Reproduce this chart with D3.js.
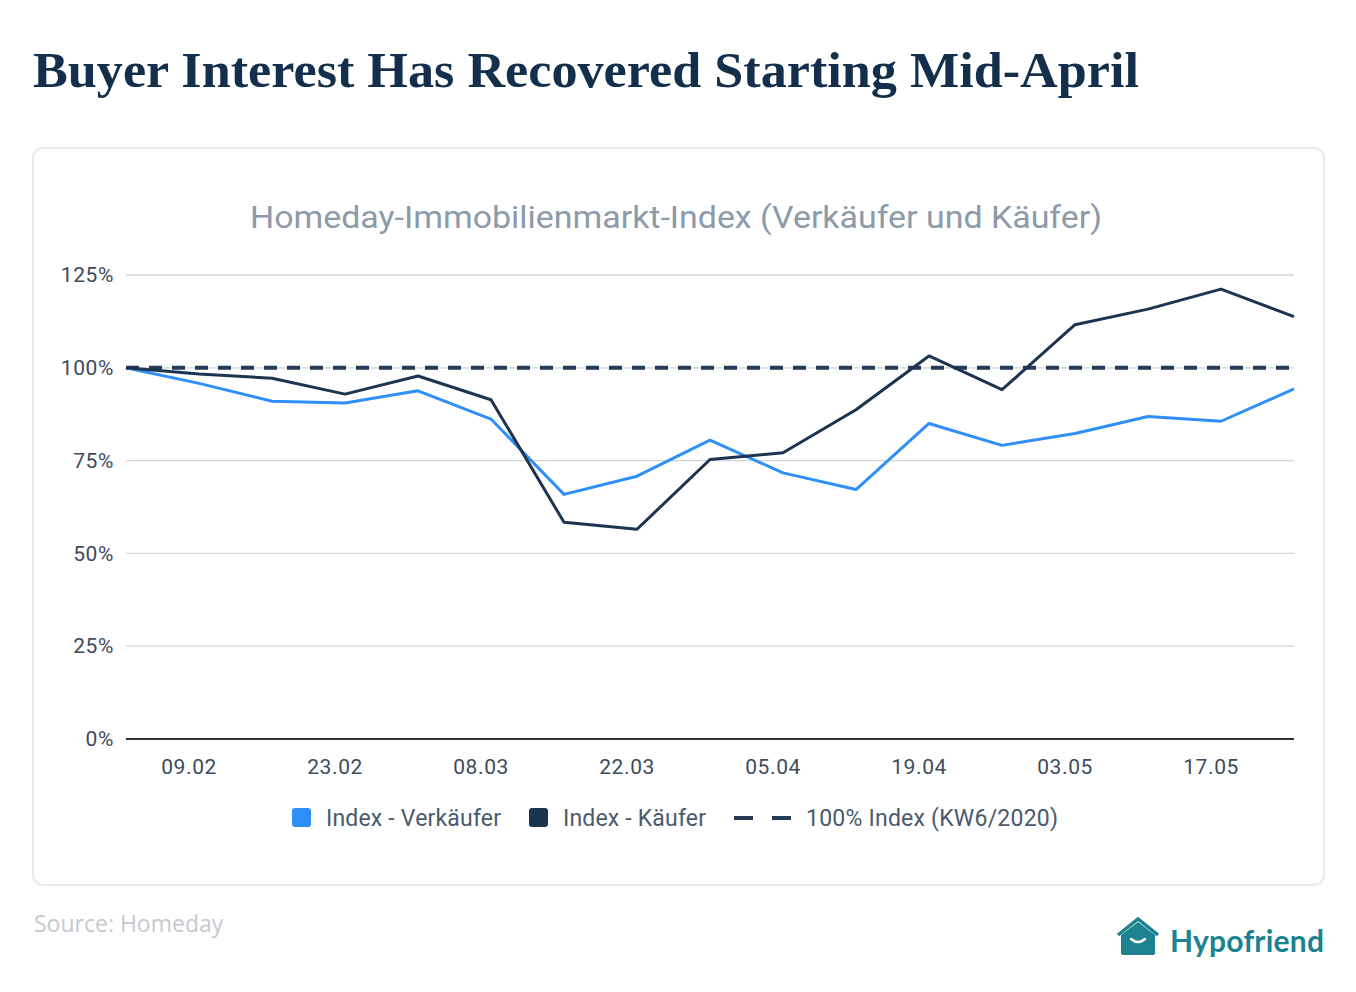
<!DOCTYPE html>
<html>
<head>
<meta charset="utf-8">
<script src="https://cdn.jsdelivr.net/npm/d3@7"></script>
<style>
  body { margin: 0; background: #fff; }
  svg { display: block; }
</style>
</head>
<body>
<svg id="chart" width="1356" height="992"></svg>
<script>
// weekly data points, KW6 2020 onwards (Mondays)
const weeks = ['2020-02-03','2020-02-10','2020-02-17','2020-02-24','2020-03-02','2020-03-09','2020-03-16','2020-03-23','2020-03-30','2020-04-06','2020-04-13','2020-04-20','2020-04-27','2020-05-04','2020-05-11','2020-05-18','2020-05-25']
const verkaeufer = [100, 95.8, 91, 90.5, 93.8, 86.2, 65.9, 70.8, 80.5, 71.7, 67.2, 85, 79.1, 82.3, 86.9, 85.6, 94.3]
const kaeufer = [100, 98.3, 97.2, 92.9, 97.8, 91.4, 58.4, 56.5, 75.3, 77.1, 88.7, 103.2, 94.1, 111.6, 115.8, 121.2, 113.8]
const baseline = weeks.map(() => 100)
const tickDates = ['2020-02-09','2020-02-23','2020-03-08','2020-03-22','2020-04-05','2020-04-19','2020-05-03','2020-05-17']
const yTicks = [0, 25, 50, 75, 100, 125]

const parse = d3.timeParse('%Y-%m-%d')
const dates = weeks.map(parse)

const svg = d3.select('#chart')
const font = 'Roboto, "Noto Sans", sans-serif'

// heading
svg.append('text')
	.attr('x', 33).attr('y', 87)
	.attr('font-family', '"Liberation Serif", "DejaVu Serif", serif')
	.attr('font-weight', 'bold')
	.attr('font-size', 50)
	.attr('fill', '#132f4c')
	.attr('textLength', 1106)
	.attr('lengthAdjust', 'spacingAndGlyphs')
	.text('Buyer Interest Has Recovered Starting Mid-April')

// card
svg.append('rect')
	.attr('x', 33).attr('y', 148)
	.attr('width', 1291).attr('height', 737)
	.attr('rx', 10)
	.attr('fill', '#fff')
	.attr('stroke', '#ebebeb')
	.attr('stroke-width', 2)

svg.append('text')
	.attr('x', 250).attr('y', 228)
	.attr('font-family', font)
	.attr('font-size', 31)
	.attr('fill', '#8c9aab')
	.attr('textLength', 852)
	.attr('lengthAdjust', 'spacingAndGlyphs')
	.text('Homeday-Immobilienmarkt-Index (Verkäufer und Käufer)')

const x = d3.scaleTime()
	.domain(d3.extent(dates))
	.range([126, 1294])

const y = d3.scaleLinear()
	.domain([0, 125])
	.range([739, 275])

// grid
svg.append('g')
	.selectAll('line')
	.data(yTicks.filter(d => d > 0))
	.join('line')
		.attr('x1', 126).attr('x2', 1294)
		.attr('y1', d => y(d)).attr('y2', d => y(d))
		.attr('stroke', '#d4d4d4')
		.attr('stroke-width', 1.3)

const yAxis = svg.append('g')
	.attr('transform', 'translate(114,0)')
	.call(d3.axisLeft(y).tickValues(yTicks).tickFormat(d => d + '%').tickSize(0).tickPadding(0))
yAxis.select('.domain').remove()
yAxis.selectAll('text')
	.attr('font-family', font)
	.attr('font-size', 21)
	.attr('letter-spacing', 0.6)
	.attr('fill', '#3d4b5c')

const xAxis = svg.append('g')
	.attr('transform', 'translate(0,739)')
	.call(d3.axisBottom(x).tickValues(tickDates.map(parse)).tickFormat(d3.timeFormat('%d.%m')).tickSize(0).tickPadding(20))
xAxis.select('.domain').remove()
xAxis.selectAll('text')
	.attr('font-family', font)
	.attr('font-size', 21)
	.attr('letter-spacing', 0.6)
	.attr('fill', '#3d4b5c')

// baseline axis line
svg.append('line')
	.attr('x1', 126).attr('x2', 1294)
	.attr('y1', y(0)).attr('y2', y(0))
	.attr('stroke', '#333')
	.attr('stroke-width', 2)

const line = d3.line()
	.x((d, i) => x(dates[i]))
	.y(d => y(d))

svg.append('path')
	.datum(baseline)
	.attr('d', line)
	.attr('fill', 'none')
	.attr('stroke', '#243a56')
	.attr('stroke-width', 4)
	.attr('stroke-dasharray', '13,10')

svg.append('path')
	.datum(verkaeufer)
	.attr('d', line)
	.attr('fill', 'none')
	.attr('stroke', '#2f8ff8')
	.attr('stroke-width', 3)
	.attr('stroke-linejoin', 'round')

svg.append('path')
	.datum(kaeufer)
	.attr('d', line)
	.attr('fill', 'none')
	.attr('stroke', '#1d3450')
	.attr('stroke-width', 3)
	.attr('stroke-linejoin', 'round')

// legend
const legend = svg.append('g').attr('font-family', font).attr('font-size', 23).attr('fill', '#4a5a6d')
legend.append('rect').attr('x', 292).attr('y', 808).attr('width', 19).attr('height', 19).attr('rx', 3).attr('fill', '#2f8ff8')
legend.append('text').attr('x', 326).attr('y', 826).attr('textLength', 175).text('Index - Verkäufer')
legend.append('rect').attr('x', 529).attr('y', 808).attr('width', 19).attr('height', 19).attr('rx', 3).attr('fill', '#1d3450')
legend.append('text').attr('x', 563).attr('y', 826).attr('textLength', 143).text('Index - Käufer')
legend.append('line').attr('x1', 734).attr('x2', 793).attr('y1', 818).attr('y2', 818)
	.attr('stroke', '#243a56').attr('stroke-width', 4).attr('stroke-dasharray', '19,19')
legend.append('text').attr('x', 806).attr('y', 826).attr('textLength', 252).text('100% Index (KW6/2020)')

// footer
svg.append('text')
	.attr('x', 34).attr('y', 932)
	.attr('font-family', '"Open Sans", sans-serif')
	.attr('font-size', 23)
	.attr('fill', '#c5c9ce')
	.text('Source: Homeday')

const logo = svg.append('g').attr('fill', '#1c8290')
logo.append('path')
	.attr('d', 'M1121,935 L1138,922 L1155,935 L1155,953 Q1155,955 1153,955 L1123,955 Q1121,955 1121,953 Z')
logo.append('path')
	.attr('d', 'M1118,935 L1138,919 L1158,935')
	.attr('fill', 'none').attr('stroke', '#1c8290').attr('stroke-width', 3.5)
logo.append('path')
	.attr('d', 'M1131,939 Q1138,945 1145,939')
	.attr('fill', 'none').attr('stroke', '#fff').attr('stroke-width', 2.5).attr('stroke-linecap', 'round')
logo.append('text')
	.attr('x', 1170).attr('y', 952)
	.attr('font-family', 'Lato, "Open Sans", sans-serif')
	.attr('font-weight', 'bold')
	.attr('font-size', 30)
	.attr('textLength', 154)
	.text('Hypofriend')
</script>
</body>
</html>
